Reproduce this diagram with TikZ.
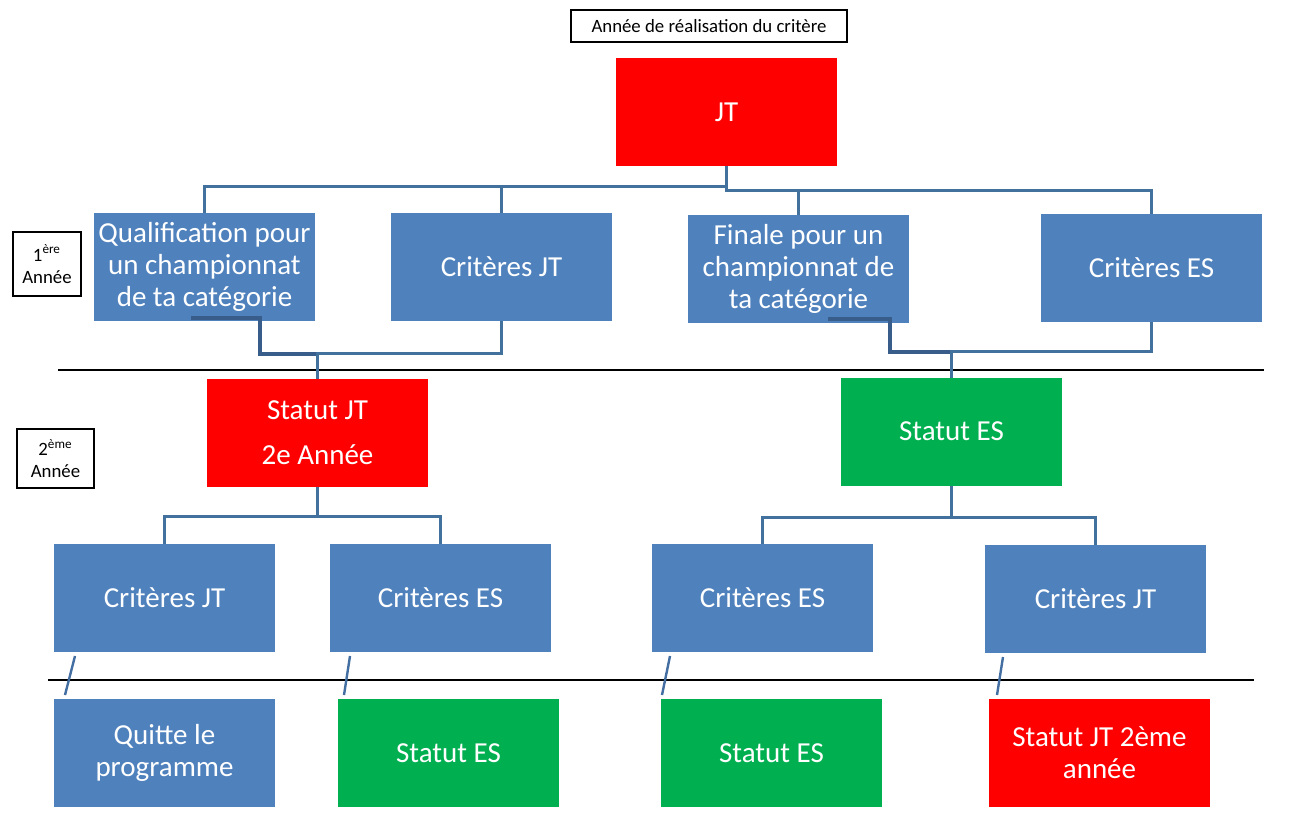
\documentclass[tikz,border=0pt]{standalone}
\usepackage{fontspec}
\setmainfont{Carlito}
\usetikzlibrary{calc}
\definecolor{boxblue}{HTML}{4F81BD}
\definecolor{boxred}{HTML}{FF0000}
\definecolor{boxgreen}{HTML}{00B050}
\definecolor{linkblue}{HTML}{41719C}
\definecolor{linkdark}{HTML}{385D8A}
\newcommand{\boxw}{110.5pt}
\newcommand{\boxh}{54pt}
\newcommand{\boxfont}{\fontsize{14.5}{16}\selectfont}
\newcommand{\smallfont}{\fontsize{9.4}{11}\selectfont}

\begin{document}
\begin{tikzpicture}[x=0.5pt, y=-0.5pt,
    box/.style={rectangle, minimum width=\boxw, minimum height=\boxh, inner sep=0pt,
        outer sep=0pt, text=white, align=center, font=\boxfont},
    critbox/.style={box, fill=boxblue},
    jtbox/.style={box, fill=boxred},
    esbox/.style={box, fill=boxgreen},
    yearbox/.style={rectangle, draw=black, line width=0.75pt, inner sep=0pt,
        align=center, font=\smallfont},
    link/.style={draw=linkblue, line width=1.5pt},
    thicklink/.style={draw=linkdark, line width=2pt},
    slant/.style={draw=boxblue!85!black, line width=1.2pt},
    sep/.style={draw=black, line width=0.7pt}]
        \useasboundingbox (0,0) rectangle (1290,816);
        
        % title and top
        \node[yearbox, minimum width=138pt, minimum height=16pt] (title) at (709,26) {Année de réalisation du critère};
        \node[jtbox] (jt) at (726.5,112) {JT};
        
        % first year
        \node[critbox] (qualif) at (204.5,266.5) {Qualification pour\\un championnat\\de ta catégorie};
        \node[critbox] (critjt) at (501.5,267) {Critères JT};
        \node[critbox] (finale) at (798.5,269) {Finale pour un\\championnat de\\ta catégorie};
        \node[critbox] (crites) at (1151.5,268) {Critères ES};
        \node[yearbox, minimum width=34pt, minimum height=32pt] (yearA) at (47,264) {1\textsuperscript{ère}\\Année};
        
        % second year
        \node[jtbox] (statjt) at (317.5,432.5) {Statut JT\\[6.5pt]2e Année};
        \node[esbox] (states) at (951.5,431.5) {Statut ES};
        \node[yearbox, minimum width=38.5pt, minimum height=29.5pt] (yearB) at (55.5,458.5) {2\textsuperscript{ème}\\Année};
        
        \node[critbox] (critjtA) at (164.5,598) {Critères JT};
        \node[critbox] (critesA) at (440.5,598) {Critères ES};
        \node[critbox] (critesB) at (762.5,598) {Critères ES};
        \node[critbox] (critjtB) at (1095.5,599) {Critères JT};
        
        % outcome
        \node[critbox] (quitte) at (164.5,753) {Quitte le\\programme};
        \node[esbox] (statesB) at (448.5,753) {Statut ES};
        \node[esbox] (statesC) at (771.5,753) {Statut ES};
        \node[jtbox] (statjtB) at (1099.5,753) {Statut JT 2ème\\année};
        
        % separators
        \coordinate (sepAl) at (58,370);
        \coordinate (sepAr) at (1264,370);
        \coordinate (sepBl) at (48,680);
        \coordinate (sepBr) at (1254,680);
        \draw[sep] (sepAl) -- (sepAr);
        \draw[sep] (sepBl) -- (sepBr);
        
        % tree from JT
        \draw[link] (jt.south) -- ++(0,20) -| (qualif.north);
        \draw[link] (jt.south) ++(0,20) -| (critjt.north);
        \draw[link] (jt.south) -- ++(0,24) -| (finale.north);
        \draw[link] (jt.south) ++(0,24) -| (crites.north);
        
        % towards the statuses
        \coordinate (jtjoin) at ($(statjt.north)+(0,-25)$);
        \coordinate (esjoin) at ($(states.north)+(0,-26)$);
        \draw[thicklink] ($(qualif.south)+(-13.5,-3)$) -- ++(69,0) |- (jtjoin);
        \draw[link] (critjt.south) |- (jtjoin) -- (statjt.north);
        \draw[thicklink] ($(finale.south)+(29.5,-4)$) -- ++(62,0) |- (esjoin);
        \draw[link] (crites.south) |- (esjoin) -- (states.north);
        
        \draw[link] (statjt.south) -- ++(0,30) -| (critjtA.north);
        \draw[link] (statjt.south) ++(0,30) -| (critesA.north);
        \draw[link] (states.south) -- ++(0,32) -| (critesB.north);
        \draw[link] (states.south) ++(0,32) -| (critjtB.north);
        
        % slanted links
        \draw[slant] ($(critjtA.south west)+(21,4)$) -- ($(quitte.north west)+(11,-4)$);
        \draw[slant] ($(critesA.south west)+(20,4)$) -- ($(statesB.north west)+(6,-4)$);
        \draw[slant] ($(critesB.south west)+(18,4)$) -- ($(statesC.north west)+(1,-4)$);
        \draw[slant] ($(critjtB.south west)+(18,4)$) -- ($(statjtB.north west)+(8,-4)$);
    \end{tikzpicture}
\end{document}
